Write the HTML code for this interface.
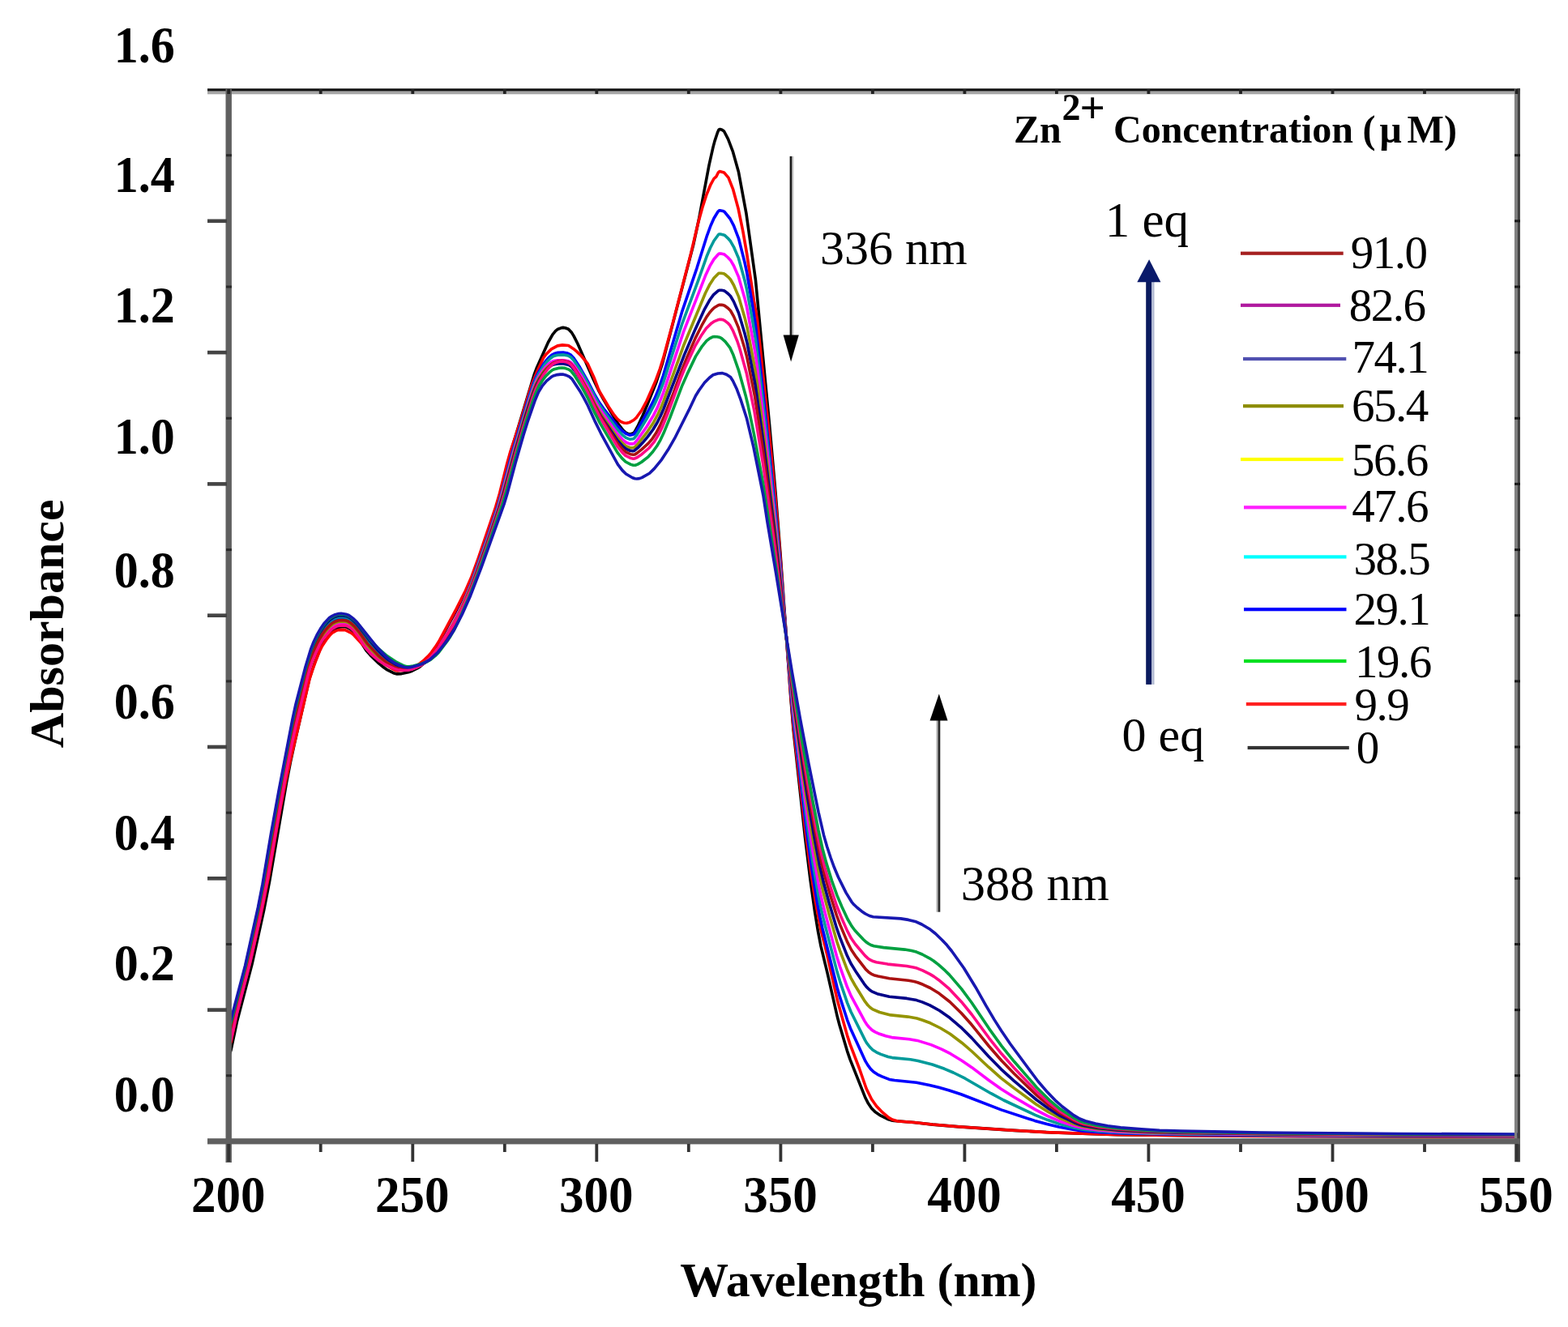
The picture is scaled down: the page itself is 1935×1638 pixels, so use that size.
<!DOCTYPE html>
<html><head><meta charset="utf-8"><title>Absorbance vs Wavelength</title>
<style>
html,body{margin:0;padding:0;background:#fff;}
svg{display:block;}
text{font-family:'Liberation Serif','Times New Roman',serif;fill:#000;}
.b{font-weight:bold;}
.r{font-weight:normal;}
</style></head>
<body>
<svg width="1935" height="1638" viewBox="0 0 1935 1638">
<rect width="1935" height="1638" fill="#fff"/>
<g fill="none" stroke-width="3.6" stroke-linejoin="round" stroke-linecap="round">
<path d="M282.0 1305.0L285.0 1296.5 292.5 1260.9 311.0 1190.0 325.5 1124.4 332.5 1088.5 353.5 966.2 358.5 940.5 364.0 915.0 382.0 837.2 388.5 817.8 393.5 804.9 397.0 797.3 403.0 787.8 408.0 781.1 411.0 778.0 414.5 775.5 417.5 774.2 424.5 773.5 427.5 774.0 433.0 777.0 436.0 779.7 442.5 788.1 452.0 803.0 457.0 808.6 467.5 818.9 473.5 823.8 478.0 826.9 485.5 830.7 490.0 831.9 495.5 831.6 504.0 829.7 508.5 828.2 514.0 825.5 518.0 823.1 522.5 819.4 528.0 814.0 532.0 809.1 542.0 793.6 552.5 772.9 564.5 751.0 575.5 728.9 583.5 709.9 602.5 656.5 612.5 626.1 617.0 610.3 626.0 573.7 630.0 559.0 659.5 461.6 662.5 453.7 676.5 422.5 682.0 412.8 685.5 408.7 688.0 406.5 693.0 404.6 695.0 404.4 697.5 404.8 701.5 406.3 705.5 410.6 708.0 414.6 713.0 424.5 732.0 467.7 738.5 481.6 744.5 492.7 761.5 521.4 769.0 531.1 771.5 533.4 774.0 535.0 776.0 535.9 778.0 535.9 781.5 534.7 783.0 533.3 787.0 526.2 793.0 513.3 798.5 500.4 810.0 471.5 817.5 448.4 855.5 302.9 862.5 270.5 875.0 203.9 880.0 181.6 882.0 174.1 885.5 163.5 887.0 160.2 887.5 159.7 888.5 159.5 891.0 160.3 893.5 162.0 898.5 171.6 904.5 187.4 911.5 212.6 921.0 263.9 932.5 346.3 949.5 523.4 957.0 607.6 963.0 683.3 976.0 863.6 979.0 900.4 993.5 1033.6 1000.0 1086.4 1005.5 1125.2 1009.5 1149.7 1013.0 1167.8 1021.0 1200.9 1033.5 1255.8 1036.0 1265.2 1045.5 1297.3 1049.0 1307.6 1068.0 1355.3 1071.5 1362.1 1075.5 1368.0 1080.0 1372.6 1086.5 1376.9 1096.5 1381.8 1100.0 1382.9 1103.5 1383.5 1128.0 1385.5 1151.0 1388.1 1184.0 1390.9 1251.5 1395.4 1299.5 1398.0 1379.5 1400.6 1471.0 1401.8 1599.0 1402.5 1872.0 1403.0" stroke="#000000"/>
<path d="M282.0 1295.0L285.0 1286.2 292.5 1250.0 311.0 1178.2 324.0 1119.5 331.5 1082.1 341.5 1022.9 346.5 995.5 352.5 965.0 357.5 942.1 382.0 838.2 385.5 827.1 390.5 813.5 394.5 803.5 397.5 797.4 403.5 788.5 407.5 783.6 410.5 780.8 414.5 778.6 417.5 777.6 423.5 777.4 426.5 777.8 433.5 781.4 436.0 783.3 454.5 803.2 468.0 815.5 475.5 820.5 485.5 826.2 488.0 827.4 490.5 828.0 496.0 827.5 504.0 825.7 509.0 824.0 514.5 821.3 518.5 818.7 523.5 814.6 528.5 809.8 532.5 805.1 537.5 798.1 542.5 790.2 563.5 750.9 574.5 729.0 582.0 711.7 590.5 688.4 611.0 627.9 616.5 609.2 626.0 571.3 630.0 557.0 642.0 520.9 655.5 476.6 662.5 459.2 670.5 441.9 674.0 437.2 680.5 430.9 688.0 426.9 694.0 425.9 701.5 426.5 707.5 430.4 712.0 434.1 717.0 439.0 725.0 448.6 733.0 466.0 738.0 479.2 740.5 484.5 751.0 502.0 757.0 511.1 761.0 516.2 764.0 519.0 767.0 520.9 770.0 522.0 773.5 522.3 776.5 521.6 782.0 518.5 785.5 515.3 792.0 506.2 798.0 495.0 808.5 471.3 814.5 455.0 818.5 442.1 830.5 397.9 852.5 313.4 862.0 273.4 867.0 255.5 872.0 240.0 877.0 227.8 881.0 220.5 884.0 217.8 886.5 212.8 888.0 211.5 893.5 212.9 899.0 219.3 904.5 233.3 911.0 257.2 917.0 286.4 921.5 312.4 930.5 371.8 934.5 394.5 949.5 537.8 957.5 622.2 963.0 688.5 975.0 848.5 979.0 896.5 994.0 1026.0 1000.5 1075.0 1006.0 1110.8 1012.5 1145.5 1020.5 1177.7 1033.5 1235.3 1045.5 1278.1 1049.0 1288.9 1060.5 1319.0 1069.0 1343.5 1075.5 1356.7 1081.5 1365.2 1088.0 1372.1 1096.5 1379.4 1101.0 1382.0 1108.0 1384.0 1128.0 1385.5 1150.5 1388.0 1182.5 1390.8 1245.5 1395.0 1291.0 1397.6 1374.5 1400.5 1461.0 1401.7 1595.0 1402.5 1872.0 1403.0" stroke="#ff0000"/>
<path d="M282.0 1278.8L285.5 1266.8 304.0 1193.7 319.0 1126.6 325.5 1093.2 348.0 965.5 360.5 900.4 364.5 881.7 371.0 855.2 382.0 813.7 387.5 798.9 391.5 790.3 395.5 782.9 402.0 773.8 406.5 769.2 410.0 766.5 413.5 764.7 418.0 763.3 421.5 763.1 426.0 763.5 429.0 764.3 431.5 765.7 437.5 770.6 443.0 777.1 454.5 792.8 467.5 806.8 478.0 815.6 489.0 822.0 495.5 824.2 500.0 825.1 504.0 825.1 509.0 824.1 517.5 821.3 524.0 818.1 529.5 814.4 534.5 809.6 539.5 803.8 543.0 798.8 551.5 784.5 558.5 771.7 571.5 744.1 582.0 718.7 604.0 656.3 613.5 627.4 618.0 611.9 631.5 560.8 653.0 489.3 658.0 474.5 661.5 465.7 664.5 459.8 670.5 449.9 674.0 445.0 677.0 441.6 681.0 438.0 684.0 436.5 688.5 435.3 695.0 435.0 700.5 436.0 704.0 437.8 708.0 442.0 715.5 453.3 725.0 470.2 734.0 487.5 739.5 496.8 745.0 504.5 761.0 524.7 768.0 532.0 772.5 535.3 777.0 537.1 781.0 536.5 782.5 535.7 786.0 531.1 799.5 508.0 808.0 491.6 813.0 479.6 818.5 463.6 841.5 385.2 860.0 330.8 872.5 290.8 877.0 278.5 881.0 269.5 886.0 261.2 887.5 259.8 888.5 259.8 892.0 260.4 894.0 261.3 901.0 270.0 905.5 278.7 911.5 294.3 919.0 323.9 921.5 335.6 929.0 379.1 932.5 401.9 942.0 487.0 957.0 631.7 963.5 703.5 976.5 860.1 979.5 891.9 995.5 1026.3 1002.0 1073.6 1008.5 1114.1 1012.0 1132.7 1015.0 1146.1 1033.0 1218.7 1036.5 1230.9 1045.5 1258.8 1049.5 1269.4 1068.0 1309.9 1071.0 1314.9 1074.5 1319.6 1078.0 1323.0 1083.0 1326.3 1088.5 1328.9 1097.5 1332.4 1104.0 1333.5 1131.0 1336.2 1147.0 1339.5 1158.5 1342.3 1171.5 1346.0 1186.0 1350.8 1235.5 1369.9 1277.0 1383.4 1292.0 1387.6 1306.5 1391.1 1324.0 1394.3 1336.0 1396.0 1357.5 1397.7 1385.0 1399.0 1474.0 1400.7 1603.5 1401.7 1872.0 1402.4" stroke="#0000ff"/>
<path d="M282.0 1277.0L286.0 1263.0 303.5 1194.2 319.0 1124.7 325.0 1093.9 337.5 1021.3 347.5 966.1 360.5 898.4 364.5 879.6 371.0 853.2 382.0 812.1 388.0 796.1 392.0 787.7 396.0 780.5 399.5 775.2 402.5 771.5 407.0 767.0 410.5 764.5 413.5 763.0 418.0 761.6 422.0 761.5 426.5 762.0 429.0 762.8 431.5 764.1 438.0 769.5 444.0 776.6 455.5 792.0 466.0 804.2 471.5 809.8 479.0 816.4 488.5 822.4 494.0 824.2 499.5 825.4 503.5 825.5 507.5 824.8 516.0 822.0 521.0 819.8 528.0 815.5 532.0 812.0 537.5 806.0 542.0 800.1 557.5 773.8 563.0 763.1 570.5 747.1 581.5 721.2 603.5 659.3 614.5 626.0 632.5 560.1 653.5 490.4 658.5 475.7 661.5 468.2 665.0 461.4 671.5 450.9 675.0 446.4 679.0 442.5 682.0 440.2 685.0 439.0 688.5 438.2 695.5 437.9 701.0 439.0 704.5 441.0 708.5 445.4 716.5 457.5 725.0 472.5 734.5 490.9 740.0 500.3 745.0 507.6 761.5 529.9 768.0 536.9 772.5 540.4 777.0 542.2 781.0 541.8 782.5 541.1 786.0 536.8 798.0 517.1 807.5 499.5 812.5 488.6 818.5 472.6 841.5 400.4 861.5 346.6 872.0 316.8 876.5 306.0 881.0 297.2 886.5 289.7 887.5 289.0 889.0 289.0 894.0 290.2 898.0 293.8 901.5 297.8 905.5 304.8 911.5 318.9 919.0 346.1 921.5 356.9 929.0 397.8 932.5 419.5 942.0 500.4 957.0 639.4 963.5 707.9 976.5 855.6 979.5 885.4 996.0 1016.7 1003.0 1064.8 1009.5 1103.3 1012.5 1118.4 1016.0 1133.5 1033.0 1199.6 1036.5 1211.1 1045.5 1237.6 1050.0 1248.7 1067.5 1283.9 1069.5 1287.3 1073.5 1292.5 1077.0 1296.0 1081.5 1298.8 1087.0 1301.4 1096.0 1304.5 1101.0 1305.6 1123.5 1307.8 1133.0 1309.4 1150.5 1314.0 1165.5 1319.3 1176.5 1324.0 1191.0 1331.2 1223.0 1349.7 1238.5 1358.0 1277.5 1376.3 1292.5 1382.3 1307.0 1387.2 1324.5 1391.9 1336.5 1394.2 1356.0 1396.3 1382.0 1397.9 1421.5 1399.2 1464.5 1400.0 1596.0 1401.2 1872.0 1402.1" stroke="#009a9a"/>
<path d="M282.0 1289.2L285.5 1277.9 292.0 1249.4 307.0 1191.0 320.5 1130.6 329.0 1086.8 351.5 959.1 359.5 917.6 364.5 894.1 382.0 823.1 384.5 815.6 388.0 806.7 392.5 796.8 396.5 789.3 402.0 781.8 407.5 775.8 410.5 773.3 414.5 771.1 417.5 770.0 422.0 769.6 426.0 769.7 428.5 770.4 431.0 771.8 434.0 773.8 436.5 776.2 442.5 783.6 450.0 795.1 453.0 799.1 458.0 804.6 466.0 812.0 476.0 819.3 487.0 825.0 491.0 826.2 497.0 827.1 502.0 827.1 506.5 826.3 512.5 824.3 518.5 821.6 524.0 818.1 529.5 813.7 535.5 807.0 541.5 799.0 558.5 770.2 571.5 744.6 582.0 720.6 589.0 702.0 602.0 665.3 615.0 626.4 634.0 557.6 653.0 494.5 658.0 480.1 661.5 471.3 665.0 464.7 670.5 456.3 673.5 452.7 676.5 449.8 680.5 446.8 683.5 445.5 688.0 444.9 695.5 444.9 701.5 445.9 705.0 447.9 709.0 452.2 716.5 462.7 725.0 477.0 734.0 494.2 739.5 503.8 744.5 511.3 762.0 535.8 768.5 542.9 772.5 546.0 777.0 547.9 781.0 547.9 782.5 547.4 786.0 543.8 798.0 526.7 806.5 512.6 811.5 502.6 818.5 485.1 843.5 409.6 870.5 340.3 876.0 328.4 881.0 320.0 886.5 313.7 887.5 313.1 889.5 313.1 894.0 314.1 898.0 317.5 901.5 321.2 905.5 328.0 911.5 341.9 919.0 368.2 921.5 378.6 932.0 435.8 934.5 453.4 942.0 515.4 956.5 643.4 963.5 712.8 976.5 851.2 979.5 879.2 991.0 968.3 996.5 1008.0 1003.5 1053.8 1010.0 1090.9 1013.5 1107.8 1017.5 1124.2 1032.5 1180.3 1036.5 1193.1 1045.5 1218.3 1050.0 1228.9 1067.0 1260.4 1069.5 1264.3 1072.5 1268.0 1076.0 1271.4 1080.0 1273.9 1085.5 1276.3 1093.0 1278.8 1100.5 1280.6 1122.0 1282.7 1132.0 1284.4 1149.0 1289.6 1162.0 1295.1 1173.0 1300.7 1187.0 1309.2 1199.0 1317.4 1220.0 1333.3 1235.5 1344.3 1251.0 1354.0 1278.0 1369.9 1293.0 1377.6 1307.0 1383.7 1324.5 1389.6 1336.5 1392.5 1355.5 1395.0 1380.0 1396.9 1418.5 1398.5 1458.0 1399.3 1593.0 1400.8 1872.0 1401.8" stroke="#ff00ff"/>
<path d="M282.0 1285.8L285.5 1274.2 292.0 1246.3 305.5 1193.9 319.5 1131.7 327.5 1090.6 350.5 960.4 360.0 911.1 364.5 890.0 379.0 831.1 382.5 818.4 385.5 809.8 389.0 801.4 393.5 791.9 397.0 785.7 403.0 777.8 407.5 773.1 410.5 770.6 414.0 768.8 417.5 767.5 422.0 767.1 426.5 767.5 429.0 768.3 432.0 770.0 437.0 774.2 442.5 780.9 453.0 796.0 458.0 801.7 467.0 810.7 477.0 818.7 487.0 824.3 491.0 825.7 497.5 826.7 502.0 826.8 506.5 826.1 512.0 824.3 518.5 821.4 524.0 818.1 529.5 813.8 535.5 807.3 541.5 799.5 558.5 771.4 564.0 761.2 571.5 746.0 582.0 721.9 589.0 703.4 601.5 668.3 615.5 626.7 620.5 609.8 635.0 556.8 648.0 512.8 653.0 497.1 658.0 482.6 661.5 473.9 665.0 467.1 670.5 458.9 673.5 455.3 676.5 452.5 680.5 449.6 683.5 448.4 688.5 447.7 695.5 447.8 702.0 449.2 705.0 451.0 709.0 455.5 716.5 466.2 725.0 480.6 734.0 498.1 739.5 507.7 745.0 516.2 762.0 540.3 768.5 547.4 772.5 550.6 777.5 552.7 781.0 552.8 783.0 552.2 787.0 548.3 799.0 532.8 806.5 521.4 811.5 512.2 815.5 503.6 819.0 494.9 843.5 426.8 870.5 361.7 876.0 350.9 881.0 343.3 886.5 337.7 887.5 337.2 890.0 337.2 893.0 337.7 894.5 338.5 898.5 341.8 901.5 345.0 905.5 352.0 911.5 366.1 919.0 391.9 922.0 404.2 932.0 457.4 934.5 474.2 942.0 532.1 956.5 653.3 962.5 708.6 976.5 846.3 979.5 872.4 991.0 956.8 997.0 997.7 1004.0 1041.2 1011.0 1079.4 1016.0 1101.6 1023.5 1129.8 1033.0 1163.0 1036.5 1173.3 1045.5 1197.1 1050.0 1207.1 1055.0 1216.0 1066.5 1234.8 1071.0 1240.8 1074.0 1243.7 1077.0 1245.9 1085.5 1249.5 1099.0 1252.9 1120.5 1255.1 1131.5 1257.0 1138.5 1259.2 1148.0 1262.8 1160.5 1269.0 1172.5 1276.3 1187.0 1287.2 1199.0 1297.5 1220.0 1317.2 1235.5 1330.8 1251.0 1342.9 1278.5 1363.0 1293.5 1372.5 1307.5 1380.0 1325.0 1387.3 1337.0 1390.8 1355.0 1393.6 1379.0 1395.8 1416.5 1397.6 1453.5 1398.6 1590.5 1400.4 1872.0 1401.4" stroke="#949400"/>
<path d="M282.0 1275.2L286.0 1261.1 303.5 1192.6 319.0 1122.8 325.0 1091.8 336.0 1027.5 347.0 966.7 360.5 896.3 365.0 875.4 377.5 826.5 383.0 807.5 386.0 799.3 390.0 790.2 394.0 782.3 398.0 775.7 401.0 771.5 405.0 767.1 408.0 764.4 412.0 761.9 416.0 760.5 419.5 759.8 423.5 760.0 428.0 760.8 430.5 761.9 433.0 763.5 439.0 768.8 444.5 775.4 456.5 791.2 465.5 801.7 470.0 806.3 478.5 814.0 488.0 820.3 493.0 822.4 498.5 824.1 502.0 824.6 505.5 824.4 511.0 823.1 519.5 820.2 526.0 817.0 530.5 813.9 536.5 808.2 541.5 802.4 551.0 788.1 556.5 779.1 561.5 769.9 568.0 756.5 580.5 727.8 588.0 707.9 601.5 670.0 616.0 627.1 621.5 608.7 636.5 554.3 648.5 513.7 654.0 496.7 659.0 482.4 662.5 474.0 666.0 467.6 671.5 459.5 675.0 455.6 678.5 452.6 681.5 450.6 684.0 449.7 689.0 449.0 695.5 448.9 702.0 450.5 705.0 452.4 709.5 457.8 718.5 471.4 725.5 483.8 735.0 502.5 741.5 513.7 762.0 543.7 768.5 550.9 772.5 554.1 777.5 556.3 781.0 556.7 783.0 556.2 787.0 552.9 793.0 546.6 799.5 538.9 806.0 530.0 811.0 521.7 815.0 513.8 819.0 504.6 844.5 437.9 858.0 406.4 869.5 381.6 875.5 370.8 880.5 363.9 886.5 358.7 888.0 358.2 890.5 358.3 893.0 358.7 894.5 359.4 898.5 362.5 901.5 365.5 905.5 372.4 911.5 386.3 919.0 411.5 922.0 423.4 932.0 474.8 942.0 545.4 956.0 657.1 962.0 709.0 976.0 837.9 979.5 866.8 991.0 947.3 997.0 986.5 1004.5 1031.2 1011.5 1068.3 1016.5 1089.9 1023.5 1115.6 1032.5 1145.7 1036.5 1157.1 1045.5 1179.8 1050.0 1189.2 1057.0 1200.6 1066.5 1214.6 1069.5 1218.4 1073.0 1221.7 1076.0 1223.9 1082.5 1226.7 1097.5 1230.2 1119.0 1232.4 1131.0 1234.6 1138.0 1236.9 1147.5 1240.9 1159.5 1247.5 1172.0 1256.3 1187.0 1269.2 1199.0 1281.1 1220.0 1304.0 1235.5 1319.8 1251.0 1333.9 1279.0 1357.5 1294.5 1368.8 1308.0 1377.1 1325.5 1385.5 1332.0 1388.0 1337.5 1389.4 1355.0 1392.5 1378.5 1394.9 1416.0 1397.0 1451.5 1398.1 1516.5 1399.2 1589.5 1400.0 1872.0 1401.2" stroke="#000088"/>
<path d="M282.0 1284.0L285.5 1272.3 292.0 1244.8 305.0 1194.4 319.5 1129.8 327.0 1091.2 350.0 961.0 360.0 909.0 365.0 885.8 379.0 829.4 382.5 816.8 386.0 806.9 390.0 797.6 394.0 789.3 398.0 782.5 401.0 778.4 405.0 773.8 408.5 770.4 411.5 768.3 415.0 766.7 418.0 765.8 422.5 765.5 427.0 766.0 429.5 766.9 432.5 768.7 437.5 773.1 443.0 779.8 453.5 794.6 467.5 809.7 477.0 817.6 487.0 823.6 490.5 825.0 497.0 826.3 501.5 826.5 505.5 826.0 511.0 824.4 518.0 821.6 523.0 818.7 528.5 814.8 534.5 808.8 541.0 800.9 558.0 774.1 563.5 764.3 570.5 750.4 581.5 725.8 589.0 706.3 600.5 674.4 617.0 626.1 622.5 607.8 634.5 563.9 645.5 526.2 657.5 488.6 661.0 479.1 664.5 471.4 670.0 462.0 674.5 455.8 681.5 448.8 684.0 447.4 688.5 445.9 693.5 445.3 697.0 445.7 702.0 447.3 705.0 449.6 709.5 455.4 718.0 469.3 725.5 483.3 735.0 502.9 741.5 514.8 762.0 547.1 768.0 554.2 772.5 558.1 778.0 560.7 781.5 561.3 783.5 560.9 786.0 559.4 792.0 554.7 800.0 547.4 805.0 541.6 809.5 534.8 815.0 524.3 820.0 512.9 830.0 488.0 841.0 457.9 847.5 441.8 858.0 417.6 866.0 401.7 872.0 391.1 876.0 385.5 879.0 382.1 881.5 379.8 886.5 376.7 888.0 376.3 890.5 376.4 893.0 376.8 894.5 377.5 898.5 380.5 901.5 383.5 905.5 390.6 911.0 403.6 918.5 428.4 921.5 439.7 931.5 489.2 941.5 555.2 955.5 661.4 975.0 825.9 980.0 864.8 991.5 941.1 997.5 978.3 1006.0 1026.4 1012.5 1059.3 1017.0 1078.2 1024.0 1103.1 1032.5 1130.1 1037.0 1142.1 1045.5 1162.4 1050.5 1172.2 1056.5 1181.2 1068.5 1196.7 1072.0 1199.9 1075.5 1202.3 1078.5 1203.7 1083.5 1205.1 1097.5 1207.7 1121.0 1210.2 1128.0 1211.5 1132.5 1212.8 1139.0 1215.3 1148.0 1219.5 1159.0 1226.3 1172.0 1236.5 1186.5 1250.7 1199.0 1264.8 1220.5 1291.5 1236.0 1309.3 1251.5 1325.3 1279.5 1352.1 1294.5 1364.5 1308.0 1374.0 1325.5 1383.5 1332.0 1386.3 1337.5 1388.0 1355.0 1391.4 1377.5 1394.0 1414.0 1396.3 1448.5 1397.5 1514.0 1398.8 1588.0 1399.6 1746.5 1400.6 1872.0 1400.9" stroke="#aa1111"/>
<path d="M282.0 1292.8L285.5 1281.6 292.0 1252.4 308.0 1190.3 321.0 1132.0 330.0 1085.9 352.5 957.7 360.0 919.2 365.0 896.1 379.5 835.8 382.5 824.6 385.5 816.0 390.0 805.2 394.5 795.7 398.0 789.8 404.0 782.4 408.5 777.6 411.0 775.6 415.0 773.4 417.5 772.5 423.0 772.0 426.5 772.1 429.0 773.0 433.0 775.4 436.5 778.6 442.5 786.3 451.0 799.6 457.5 807.0 468.0 815.8 474.0 819.6 479.0 822.2 486.5 825.4 490.5 826.7 497.0 827.5 503.0 827.3 508.5 826.0 516.0 823.0 521.0 820.2 526.5 816.1 532.0 811.0 540.5 800.5 559.0 771.7 571.0 749.6 581.5 726.7 589.0 707.6 599.5 678.8 618.0 625.1 623.0 608.7 635.5 563.0 646.0 527.0 658.5 488.1 662.0 478.9 665.5 471.5 671.0 462.2 676.0 455.5 680.0 451.3 682.5 449.2 686.5 447.3 690.5 446.2 694.5 445.9 698.5 446.7 702.5 448.3 705.0 450.4 709.0 455.7 716.5 468.0 725.0 484.0 734.0 503.1 740.0 514.6 762.0 551.2 768.0 558.6 772.0 562.4 777.5 565.2 781.5 566.2 783.5 565.9 786.5 564.5 792.0 560.7 801.0 553.0 807.5 545.1 813.0 535.9 817.5 526.6 824.0 510.5 840.0 467.2 845.0 454.8 857.5 427.7 866.0 413.2 871.5 405.3 878.0 398.9 881.0 396.9 886.0 394.8 887.5 394.4 890.0 394.4 892.5 394.8 894.5 395.8 898.0 398.6 901.0 401.8 904.5 408.1 910.0 421.5 913.0 430.8 921.5 461.6 931.0 508.0 941.5 572.1 955.5 671.9 976.5 834.5 981.0 866.4 991.0 930.5 998.0 972.3 1007.5 1024.1 1013.5 1053.2 1018.0 1071.3 1025.0 1095.3 1032.5 1118.0 1037.5 1130.7 1045.5 1148.9 1050.5 1158.3 1055.5 1165.5 1067.5 1179.7 1071.0 1182.9 1074.5 1185.2 1077.5 1186.6 1081.5 1187.7 1095.5 1190.1 1119.0 1192.5 1127.0 1193.9 1131.5 1195.1 1138.5 1197.9 1147.5 1202.4 1152.5 1205.4 1158.5 1209.7 1171.5 1220.7 1186.5 1236.7 1199.0 1252.0 1220.5 1281.3 1236.0 1300.8 1251.5 1318.3 1279.5 1347.7 1295.0 1361.6 1308.5 1371.9 1326.0 1382.2 1332.0 1385.0 1338.0 1387.0 1355.0 1390.6 1377.5 1393.3 1414.0 1395.8 1448.0 1397.1 1513.5 1398.4 1587.5 1399.3 1746.0 1400.4 1872.0 1400.7" stroke="#ff0a84"/>
<path d="M282.0 1272.8L286.5 1256.7 303.0 1192.5 318.5 1122.6 324.5 1091.7 335.0 1029.8 345.5 971.7 361.0 890.9 365.0 872.5 377.5 824.0 383.5 803.8 387.0 794.7 391.0 786.0 395.0 778.6 399.5 771.6 402.5 767.8 406.5 763.8 410.0 761.3 413.0 759.8 417.0 758.5 420.0 758.1 424.0 758.5 428.5 759.4 433.0 762.0 439.0 767.1 445.0 774.2 456.5 789.2 467.0 800.6 477.5 809.6 489.5 817.4 499.0 822.0 502.0 822.7 505.0 822.8 510.0 822.0 520.5 819.3 527.0 816.8 531.0 814.5 537.0 809.7 541.5 805.2 551.5 792.0 556.0 785.2 560.5 777.4 566.0 766.2 579.0 736.6 586.5 717.2 600.0 679.8 620.0 622.3 624.5 607.5 635.5 567.0 645.5 532.5 650.5 516.1 658.0 493.8 661.5 484.4 665.0 476.8 669.5 469.5 674.0 463.7 678.0 459.7 681.5 456.9 684.0 455.7 689.0 454.4 693.5 454.0 697.0 454.4 702.0 456.1 705.0 458.3 709.5 464.2 718.5 478.6 725.0 490.7 734.0 509.7 740.5 522.3 762.0 558.7 767.5 565.6 772.0 570.0 778.5 573.4 781.5 574.3 784.0 574.2 787.0 573.1 791.5 570.5 800.0 563.8 805.5 557.8 810.5 550.8 815.0 543.1 819.0 534.6 827.0 515.0 842.0 475.4 848.0 461.9 858.5 439.9 866.5 427.3 872.0 420.7 876.0 417.6 879.0 416.1 881.5 415.5 885.0 415.7 887.5 416.2 890.5 417.7 895.0 421.6 901.0 429.4 905.0 438.3 911.5 457.1 920.5 489.6 923.0 500.0 930.5 536.0 942.0 598.8 959.5 712.7 979.5 850.1 989.5 913.1 1003.0 988.9 1010.0 1024.8 1015.0 1047.5 1019.5 1064.4 1026.5 1087.1 1033.0 1105.4 1039.0 1119.5 1046.0 1134.5 1051.0 1143.2 1055.0 1148.5 1065.5 1159.7 1068.5 1162.5 1072.0 1165.0 1075.5 1166.8 1078.5 1167.7 1090.5 1169.6 1116.5 1172.1 1125.0 1173.6 1131.0 1175.1 1138.0 1178.0 1147.0 1182.8 1152.0 1186.0 1158.0 1190.7 1166.5 1198.2 1171.5 1203.1 1186.5 1220.6 1199.0 1237.5 1220.5 1269.6 1236.0 1291.1 1251.5 1310.3 1279.5 1342.5 1295.0 1357.8 1308.5 1369.1 1326.0 1380.5 1332.0 1383.5 1338.0 1385.7 1354.5 1389.5 1376.5 1392.5 1412.5 1395.2 1446.0 1396.6 1512.0 1398.0 1586.5 1399.0 1745.5 1400.1 1872.0 1400.5" stroke="#00a040"/>
<path d="M282.0 1270.0L302.5 1192.1 318.5 1119.6 324.0 1091.3 334.5 1028.9 344.0 976.3 361.0 887.7 365.0 869.2 377.0 823.0 383.5 801.4 387.0 792.5 391.0 784.0 395.5 776.1 400.0 769.4 406.5 762.6 410.0 760.3 413.5 758.7 418.0 757.5 421.0 757.3 427.0 758.3 430.5 759.5 436.5 763.9 440.0 767.4 465.0 798.6 475.5 809.6 481.0 814.3 487.5 818.7 493.5 821.5 499.0 823.5 503.0 824.0 507.0 823.6 516.5 821.1 522.0 819.0 530.0 814.7 540.0 805.7 552.5 789.7 560.0 778.3 570.0 758.9 580.5 735.4 594.0 700.3 622.0 622.5 626.0 609.3 636.0 571.8 646.0 537.0 651.0 521.0 660.0 494.8 664.5 484.1 669.0 476.7 674.5 470.2 681.0 464.9 683.5 463.7 687.5 462.6 691.5 462.1 694.5 462.1 698.0 462.9 702.5 464.8 706.0 467.9 715.5 482.4 720.5 491.1 725.5 500.8 734.0 519.6 741.5 534.8 762.5 573.4 768.0 580.6 772.5 585.0 780.5 589.7 783.5 590.7 786.0 591.0 789.0 590.6 792.0 589.6 801.5 584.2 807.5 578.4 816.5 567.3 824.5 555.1 832.5 541.2 850.0 506.4 858.5 488.5 862.5 482.0 869.5 472.3 875.5 466.2 880.0 462.8 886.0 461.0 891.5 460.6 896.5 462.2 901.5 465.5 904.5 470.3 909.0 479.7 914.0 493.1 921.5 516.5 930.0 552.4 942.0 612.2 947.0 644.7 957.5 707.0 977.5 830.0 987.5 887.2 998.0 942.9 1010.0 1002.3 1016.5 1030.7 1020.5 1044.7 1025.0 1058.5 1029.5 1070.8 1034.5 1082.7 1044.0 1101.9 1051.0 1113.3 1054.0 1116.8 1058.0 1120.5 1063.5 1124.9 1068.0 1128.0 1073.0 1130.5 1077.5 1131.7 1111.5 1133.9 1121.0 1135.4 1129.5 1137.4 1137.5 1141.0 1148.0 1147.3 1154.5 1152.5 1162.5 1160.2 1168.5 1166.6 1174.5 1174.0 1189.5 1195.0 1204.0 1218.7 1216.5 1240.9 1227.0 1258.6 1236.5 1273.6 1246.5 1288.3 1281.0 1334.8 1292.5 1348.1 1303.5 1359.4 1311.0 1366.0 1325.0 1376.6 1332.5 1381.0 1339.5 1383.7 1352.0 1387.1 1367.0 1389.8 1383.0 1391.7 1408.5 1393.8 1431.0 1395.2 1457.0 1396.0 1555.0 1398.0 1728.0 1399.5 1872.0 1400.0" stroke="#1818b0"/>
</g>
<rect x="256" y="109.3" width="1620" height="3.4" fill="#111"/>
<rect x="256" y="112.7" width="1620" height="3.6" fill="#a6a6a6"/>
<rect x="278.5" y="109.3" width="7.4" height="1325.7" fill="#606060"/>
<rect x="1868.9" y="109.3" width="3.5" height="1325" fill="#808080"/>
<rect x="1872.4" y="109.3" width="3.5" height="1325" fill="#404040"/>
<rect x="256" y="1405.2" width="1620" height="7.2" fill="#606060"/>
<rect x="256" y="270.5" width="24" height="4.6" fill="#444"/>
<rect x="256" y="432.8" width="24" height="4.6" fill="#444"/>
<rect x="256" y="595.1" width="24" height="4.6" fill="#444"/>
<rect x="256" y="757.4" width="24" height="4.6" fill="#444"/>
<rect x="256" y="919.7" width="24" height="4.6" fill="#444"/>
<rect x="256" y="1082.0" width="24" height="4.6" fill="#444"/>
<rect x="256" y="1244.3" width="24" height="4.6" fill="#444"/>
<rect x="279" y="190.2" width="7" height="3" fill="#2a2a2a"/>
<rect x="279" y="352.5" width="7" height="3" fill="#2a2a2a"/>
<rect x="279" y="514.8" width="7" height="3" fill="#2a2a2a"/>
<rect x="279" y="677.1" width="7" height="3" fill="#2a2a2a"/>
<rect x="279" y="839.4" width="7" height="3" fill="#2a2a2a"/>
<rect x="279" y="1001.7" width="7" height="3" fill="#2a2a2a"/>
<rect x="279" y="1164.0" width="7" height="3" fill="#2a2a2a"/>
<rect x="279" y="1326.2" width="7" height="3" fill="#2a2a2a"/>
<rect x="280.3" y="1412" width="3.8" height="22" fill="#333"/>
<rect x="280.3" y="110" width="3.8" height="6" fill="#222"/>
<rect x="393.8" y="1412" width="3.8" height="10" fill="#333"/>
<rect x="393.8" y="110" width="3.8" height="6" fill="#222"/>
<rect x="507.4" y="1412" width="3.8" height="22" fill="#333"/>
<rect x="507.4" y="110" width="3.8" height="6" fill="#222"/>
<rect x="620.9" y="1412" width="3.8" height="10" fill="#333"/>
<rect x="620.9" y="110" width="3.8" height="6" fill="#222"/>
<rect x="734.4" y="1412" width="3.8" height="22" fill="#333"/>
<rect x="734.4" y="110" width="3.8" height="6" fill="#222"/>
<rect x="847.9" y="1412" width="3.8" height="10" fill="#333"/>
<rect x="847.9" y="110" width="3.8" height="6" fill="#222"/>
<rect x="961.5" y="1412" width="3.8" height="22" fill="#333"/>
<rect x="961.5" y="110" width="3.8" height="6" fill="#222"/>
<rect x="1075.0" y="1412" width="3.8" height="10" fill="#333"/>
<rect x="1075.0" y="110" width="3.8" height="6" fill="#222"/>
<rect x="1188.5" y="1412" width="3.8" height="22" fill="#333"/>
<rect x="1188.5" y="110" width="3.8" height="6" fill="#222"/>
<rect x="1302.0" y="1412" width="3.8" height="10" fill="#333"/>
<rect x="1302.0" y="110" width="3.8" height="6" fill="#222"/>
<rect x="1415.5" y="1412" width="3.8" height="22" fill="#333"/>
<rect x="1415.5" y="110" width="3.8" height="6" fill="#222"/>
<rect x="1529.1" y="1412" width="3.8" height="10" fill="#333"/>
<rect x="1529.1" y="110" width="3.8" height="6" fill="#222"/>
<rect x="1642.6" y="1412" width="3.8" height="22" fill="#333"/>
<rect x="1642.6" y="110" width="3.8" height="6" fill="#222"/>
<rect x="1756.1" y="1412" width="3.8" height="10" fill="#333"/>
<rect x="1756.1" y="110" width="3.8" height="6" fill="#222"/>
<rect x="1869.7" y="1412" width="3.8" height="22" fill="#333"/>
<rect x="1869.7" y="110" width="3.8" height="6" fill="#222"/>
<rect x="1869" y="190.2" width="7" height="3" fill="#1a1a1a"/>
<rect x="1869" y="271.3" width="7" height="3" fill="#1a1a1a"/>
<rect x="1869" y="352.5" width="7" height="3" fill="#1a1a1a"/>
<rect x="1869" y="433.6" width="7" height="3" fill="#1a1a1a"/>
<rect x="1869" y="514.8" width="7" height="3" fill="#1a1a1a"/>
<rect x="1869" y="595.9" width="7" height="3" fill="#1a1a1a"/>
<rect x="1869" y="677.1" width="7" height="3" fill="#1a1a1a"/>
<rect x="1869" y="758.2" width="7" height="3" fill="#1a1a1a"/>
<rect x="1869" y="839.4" width="7" height="3" fill="#1a1a1a"/>
<rect x="1869" y="920.5" width="7" height="3" fill="#1a1a1a"/>
<rect x="1869" y="1001.7" width="7" height="3" fill="#1a1a1a"/>
<rect x="1869" y="1082.8" width="7" height="3" fill="#1a1a1a"/>
<rect x="1869" y="1164.0" width="7" height="3" fill="#1a1a1a"/>
<rect x="1869" y="1245.1" width="7" height="3" fill="#1a1a1a"/>
<rect x="1869" y="1326.2" width="7" height="3" fill="#1a1a1a"/>
<rect x="1531.0" y="310.6" width="126.7" height="4.2" fill="#a52020"/>
<rect x="1531.0" y="374.7" width="123.0" height="4.2" fill="#b0199f"/>
<rect x="1534.0" y="440.9" width="127.3" height="4.2" fill="#5050b0"/>
<rect x="1534.0" y="499.1" width="124.0" height="4.2" fill="#8c8c00"/>
<rect x="1531.0" y="564.9" width="126.7" height="4.2" fill="#ffff00"/>
<rect x="1535.0" y="624.2" width="126.5" height="4.2" fill="#ff20ff"/>
<rect x="1535.0" y="685.3" width="126.5" height="4.2" fill="#00ffff"/>
<rect x="1535.0" y="750.1" width="126.5" height="4.2" fill="#0000ff"/>
<rect x="1535.0" y="813.9" width="126.5" height="4.2" fill="#00e020"/>
<rect x="1537.8" y="867.0" width="123.7" height="4.2" fill="#ff2020"/>
<rect x="1539.6" y="920.9" width="125.2" height="4.2" fill="#333333"/>
<rect x="974.6" y="192.9" width="3" height="222" fill="#1a1a1a"/>
<rect x="977.6" y="192.9" width="1.8" height="222" fill="#c8c8c8"/>
<polygon points="966.6,413.6 985.8,413.6 976.1,446.6" fill="#000"/>
<rect x="1157.3" y="888" width="3" height="237.7" fill="#2a2a2a"/>
<rect x="1155.5" y="888" width="1.8" height="237.7" fill="#b0b0b0"/>
<polygon points="1147.5,889.5 1169.5,889.5 1158.8,856.5" fill="#000"/>
<rect x="1414.2" y="346" width="6.8" height="498.9" fill="#0a1a5e"/>
<rect x="1421" y="346" width="3.5" height="498.9" fill="#b4bcd4"/>
<polygon points="1403.3,348.2 1432.4,348.2 1418.1,320.2" fill="#0a1a6a"/>
<text transform="translate(215.7 76.5) scale(1 1.06)" class="b" font-size="60" text-anchor="end">1.6</text><text transform="translate(215.7 236.9) scale(1 1.06)" class="b" font-size="60" text-anchor="end">1.4</text><text transform="translate(215.7 398.2) scale(1 1.06)" class="b" font-size="60" text-anchor="end">1.2</text><text transform="translate(215.7 559.9) scale(1 1.06)" class="b" font-size="60" text-anchor="end">1.0</text><text transform="translate(215.7 724.9) scale(1 1.06)" class="b" font-size="60" text-anchor="end">0.8</text><text transform="translate(215.7 887.1) scale(1 1.06)" class="b" font-size="60" text-anchor="end">0.6</text><text transform="translate(215.7 1048.7) scale(1 1.06)" class="b" font-size="60" text-anchor="end">0.4</text><text transform="translate(215.7 1210.3) scale(1 1.06)" class="b" font-size="60" text-anchor="end">0.2</text><text transform="translate(215.7 1371.9) scale(1 1.06)" class="b" font-size="60" text-anchor="end">0.0</text><text transform="translate(281.7 1496.3) scale(1 1.04)" class="b" font-size="61" text-anchor="middle">200</text><text transform="translate(508.8 1496.3) scale(1 1.04)" class="b" font-size="61" text-anchor="middle">250</text><text transform="translate(735.8 1496.3) scale(1 1.04)" class="b" font-size="61" text-anchor="middle">300</text><text transform="translate(962.9 1496.3) scale(1 1.04)" class="b" font-size="61" text-anchor="middle">350</text><text transform="translate(1189.9 1496.3) scale(1 1.04)" class="b" font-size="61" text-anchor="middle">400</text><text transform="translate(1417.0 1496.3) scale(1 1.04)" class="b" font-size="61" text-anchor="middle">450</text><text transform="translate(1644.0 1496.3) scale(1 1.04)" class="b" font-size="61" text-anchor="middle">500</text><text transform="translate(1871.1 1496.3) scale(1 1.04)" class="b" font-size="61" text-anchor="middle">550</text><text x="839.3" y="1599.6" class="b" font-size="59.8">Wavelength (nm)</text><text transform="translate(78.2 769.8) rotate(-90)" class="b" font-size="60" text-anchor="middle">Absorbance</text><text x="1251.1" y="175.5" class="b" font-size="48">Zn</text><text x="1310.5" y="148" class="b" font-size="46">2</text><text x="1332.4" y="151.4" class="b" font-size="55">+</text><text x="1374" y="175.5" class="b" font-size="48">Concentration</text><text x="1681.6" y="175.5" class="b" font-size="48">(</text><text x="1702.5" y="175.5" class="b" font-size="48">&#956;</text><text x="1736.6" y="175.5" class="b" font-size="48">M)</text><text x="1012" y="325.7" class="r" font-size="60">336 nm</text><text x="1185.7" y="1111" class="r" font-size="60.5">388 nm</text><text x="1363.8" y="292.2" class="r" font-size="61">1 eq</text><text x="1384.5" y="927" class="r" font-size="60">0 eq</text><text x="1666.8" y="331.0" class="r" font-size="57" letter-spacing="-1.5">91.0</text><text x="1664.7" y="396.1" class="r" font-size="57" letter-spacing="-1.5">82.6</text><text x="1668.6" y="460.2" class="r" font-size="57" letter-spacing="-1.5">74.1</text><text x="1667.9" y="520.0" class="r" font-size="57" letter-spacing="-1.5">65.4</text><text x="1667.9" y="587.4" class="r" font-size="57" letter-spacing="-1.5">56.6</text><text x="1668.3" y="644.0" class="r" font-size="57" letter-spacing="-1.5">47.6</text><text x="1670.5" y="708.8" class="r" font-size="57" letter-spacing="-1.5">38.5</text><text x="1670.5" y="771.4" class="r" font-size="57" letter-spacing="-1.5">29.1</text><text x="1671.9" y="836.3" class="r" font-size="57" letter-spacing="-1.5">19.6</text><text x="1671.6" y="889.0" class="r" font-size="57" letter-spacing="-1.5">9.9</text><text x="1673.8" y="941.7" class="r" font-size="57" letter-spacing="-1.5">0</text>
</svg>
</body></html>
